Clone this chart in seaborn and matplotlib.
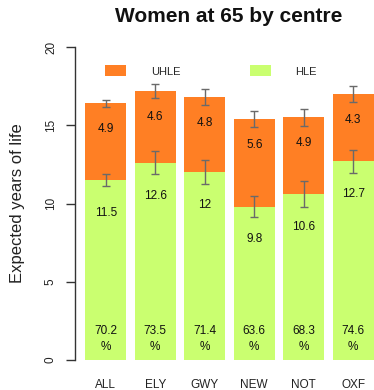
import numpy as np
import pandas as pd
import matplotlib
matplotlib.use("Agg")
import matplotlib.pyplot as plt
import seaborn as sns
from matplotlib.patches import Patch

# Life expectancy at 65 (women), split into healthy and unhealthy years
centres = ["ALL", "ELY", "GWY", "NEW", "NOT", "OXF"]
hle = [11.5, 12.6, 12.0, 9.8, 10.6, 12.7]
uhle = [4.9, 4.6, 4.8, 5.6, 4.9, 4.3]
hle_pct = [70.2, 73.5, 71.4, 63.6, 68.3, 74.6]
hle_err = [0.37, 0.73, 0.75, 0.69, 0.82, 0.72]
total_err = [0.23, 0.46, 0.52, 0.48, 0.56, 0.50]
yticks = [0, 5, 10, 15, 20]

HLE_COL = "#CAFF70"
UHLE_COL = "#FF7F24"
ERR_COL = "#6a6a6a"

sns.set_style("white")
plt.rcParams["font.family"] = ["Liberation Sans", "DejaVu Sans"]

df = pd.DataFrame({"centre": centres, "hle": hle, "uhle": uhle})
df["total"] = df["hle"] + df["uhle"]

W, H = 374, 390
fig = plt.figure(figsize=(W / 100, H / 100), dpi=100)
ax = fig.add_axes([75 / W, 30 / H, (W - 75) / W, 313 / H])

# stacked bars: full height in orange, healthy part drawn over it in green
sns.barplot(data=df, x="centre", y="total", color=UHLE_COL, width=0.833,
            linewidth=0, saturation=1, ax=ax, order=centres)
sns.barplot(data=df, x="centre", y="hle", color=HLE_COL, width=0.833,
            linewidth=0, saturation=1, ax=ax, order=centres)

x = np.arange(len(centres))
ax.errorbar(x, df["total"], yerr=total_err, fmt="none", ecolor=ERR_COL,
            elinewidth=1, capsize=2.9, capthick=1, zorder=5)
ax.errorbar(x, df["hle"], yerr=hle_err, fmt="none", ecolor=ERR_COL,
            elinewidth=1, capsize=2.9, capthick=1, zorder=5)

lab_kw = dict(ha="center", va="center", fontsize=8.5, color="#111111", zorder=6)
for i in range(len(centres)):
    ax.text(x[i], df["total"][i] - 1.65, f"{uhle[i]:g}", **lab_kw)
    ax.text(x[i], hle[i] - 2.1, f"{hle[i]:g}", **lab_kw)
    ax.text(x[i], 1.85, f"{hle_pct[i]:g}", **lab_kw)
    ax.text(x[i], 0.83, "%", **lab_kw)

ax.set_xlim(-0.622, 5.418)
ax.set_ylim(0, 20)
ax.set_yticks(yticks)
ax.set_yticklabels([str(t) for t in yticks], rotation=90, va="center",
                   fontsize=8.5, color="#222222")
ax.tick_params(axis="y", length=6.5, width=1, color="#333333", pad=6.5,
               direction="out", left=True)
ax.tick_params(axis="x", length=0, pad=14, labelsize=8.5, labelcolor="#222222")
for s in ["top", "right", "bottom"]:
    ax.spines[s].set_visible(False)
ax.spines["left"].set_color("#333333")
ax.spines["left"].set_linewidth(1)
ax.set_xlabel("")
ax.set_ylabel("Expected years of life", fontsize=12, color="#222222")
ax.yaxis.set_label_coords((18 - 75) / (W - 75), 0.5)
ax.yaxis.label.set_va("center")

handles = [Patch(facecolor=UHLE_COL, edgecolor="none", label="UHLE"),
           Patch(facecolor=HLE_COL, edgecolor="none", label="HLE")]
ax.legend(handles=handles, ncol=2, frameon=False, fontsize=8,
          loc="center left", bbox_to_anchor=(105 / W, 1 - 71 / H),
          bbox_transform=fig.transFigure, borderpad=0, borderaxespad=0,
          handlelength=1.9, handleheight=1.13, handletextpad=2.25,
          columnspacing=6.2)

fig.text(229 / W, 1 - 17 / H, "Women at 65 by centre", ha="center",
         va="center", fontsize=15, fontweight="bold", color="#111111")

fig.savefig("out.png", dpi=100, facecolor="white")
